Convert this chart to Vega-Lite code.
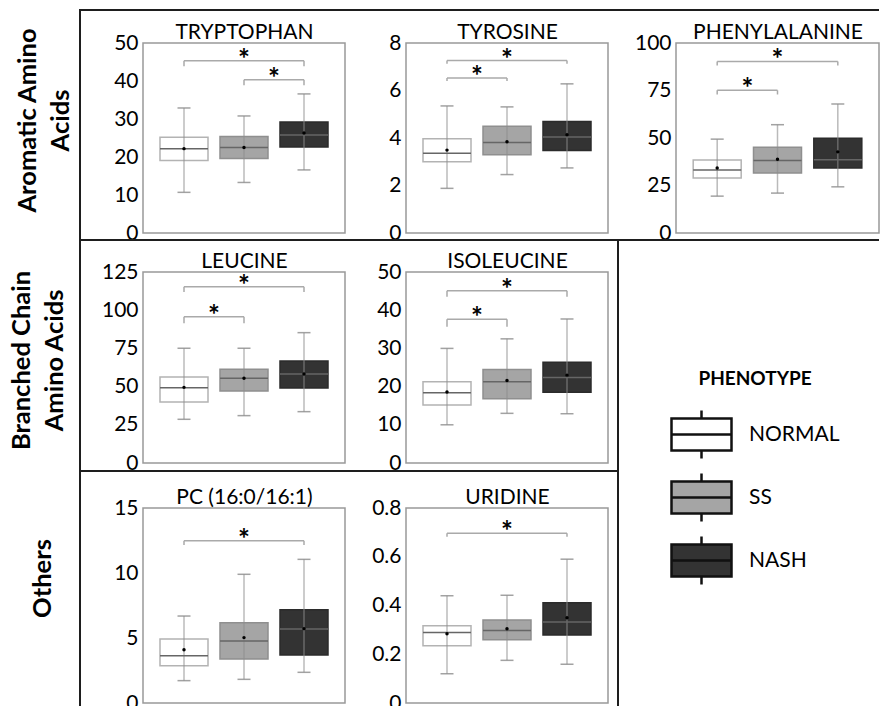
{
  "$schema": "https://vega.github.io/schema/vega-lite/v6.json",
  "background": "white",
  "padding": 0,
  "datasets": {
    "boxes": [
      {"panel": "TRYPTOPHAN", "group": "NORMAL", "idx": 1, "min": 10.7, "q1": 19.1, "median": 22.2, "q3": 25.2, "max": 32.9, "mean": 22.2},
      {"panel": "TRYPTOPHAN", "group": "SS", "idx": 2, "min": 13.3, "q1": 19.6, "median": 22.5, "q3": 25.4, "max": 30.8, "mean": 22.5},
      {"panel": "TRYPTOPHAN", "group": "NASH", "idx": 3, "min": 16.6, "q1": 22.6, "median": 25.8, "q3": 29.2, "max": 36.6, "mean": 26.3},
      {"panel": "TYROSINE", "group": "NORMAL", "idx": 1, "min": 1.88, "q1": 3.0, "median": 3.36, "q3": 3.97, "max": 5.35, "mean": 3.49},
      {"panel": "TYROSINE", "group": "SS", "idx": 2, "min": 2.46, "q1": 3.29, "median": 3.81, "q3": 4.49, "max": 5.31, "mean": 3.84},
      {"panel": "TYROSINE", "group": "NASH", "idx": 3, "min": 2.74, "q1": 3.47, "median": 4.04, "q3": 4.70, "max": 6.28, "mean": 4.14},
      {"panel": "PHENYLALANINE", "group": "NORMAL", "idx": 1, "min": 19.4, "q1": 28.9, "median": 33.2, "q3": 38.4, "max": 49.4, "mean": 34.2},
      {"panel": "PHENYLALANINE", "group": "SS", "idx": 2, "min": 21.0, "q1": 31.6, "median": 38.1, "q3": 45.1, "max": 57.0, "mean": 38.8},
      {"panel": "PHENYLALANINE", "group": "NASH", "idx": 3, "min": 24.3, "q1": 34.2, "median": 38.6, "q3": 49.9, "max": 67.9, "mean": 42.7},
      {"panel": "LEUCINE", "group": "NORMAL", "idx": 1, "min": 28.6, "q1": 39.9, "median": 49.3, "q3": 56.3, "max": 75.1, "mean": 49.5},
      {"panel": "LEUCINE", "group": "SS", "idx": 2, "min": 31.0, "q1": 47.1, "median": 55.4, "q3": 61.3, "max": 75.1, "mean": 55.4},
      {"panel": "LEUCINE", "group": "NASH", "idx": 3, "min": 33.6, "q1": 49.1, "median": 58.2, "q3": 66.8, "max": 85.3, "mean": 58.2},
      {"panel": "ISOLEUCINE", "group": "NORMAL", "idx": 1, "min": 10.0, "q1": 15.2, "median": 18.4, "q3": 21.3, "max": 30.0, "mean": 18.6},
      {"panel": "ISOLEUCINE", "group": "SS", "idx": 2, "min": 13.0, "q1": 16.8, "median": 21.3, "q3": 24.5, "max": 32.5, "mean": 21.6},
      {"panel": "ISOLEUCINE", "group": "NASH", "idx": 3, "min": 12.9, "q1": 18.5, "median": 22.4, "q3": 26.4, "max": 37.7, "mean": 23.0},
      {"panel": "PC", "group": "NORMAL", "idx": 1, "min": 1.72, "q1": 2.87, "median": 3.64, "q3": 4.92, "max": 6.69, "mean": 4.1},
      {"panel": "PC", "group": "SS", "idx": 2, "min": 1.82, "q1": 3.38, "median": 4.77, "q3": 6.18, "max": 9.9, "mean": 5.03},
      {"panel": "PC", "group": "NASH", "idx": 3, "min": 2.36, "q1": 3.69, "median": 5.69, "q3": 7.18, "max": 11.05, "mean": 5.72},
      {"panel": "URIDINE", "group": "NORMAL", "idx": 1, "min": 0.120, "q1": 0.235, "median": 0.289, "q3": 0.317, "max": 0.440, "mean": 0.284},
      {"panel": "URIDINE", "group": "SS", "idx": 2, "min": 0.175, "q1": 0.260, "median": 0.297, "q3": 0.341, "max": 0.442, "mean": 0.305},
      {"panel": "URIDINE", "group": "NASH", "idx": 3, "min": 0.159, "q1": 0.279, "median": 0.332, "q3": 0.411, "max": 0.590, "mean": 0.350}
    ],
    "brackets": [
      {"panel": "TRYPTOPHAN", "from": 1, "to": 3, "mid": 2, "y": 45.3, "lo": 43.9},
      {"panel": "TRYPTOPHAN", "from": 2, "to": 3, "mid": 2.5, "y": 40.3, "lo": 38.9},
      {"panel": "TYROSINE", "from": 1, "to": 3, "mid": 2, "y": 7.26, "lo": 7.13},
      {"panel": "TYROSINE", "from": 1, "to": 2, "mid": 1.5, "y": 6.53, "lo": 6.40},
      {"panel": "PHENYLALANINE", "from": 1, "to": 3, "mid": 2, "y": 90.3, "lo": 88.2},
      {"panel": "PHENYLALANINE", "from": 1, "to": 2, "mid": 1.5, "y": 75.1, "lo": 72.9},
      {"panel": "LEUCINE", "from": 1, "to": 3, "mid": 2, "y": 115.4, "lo": 111.9},
      {"panel": "LEUCINE", "from": 1, "to": 2, "mid": 1.5, "y": 95.7, "lo": 91.4},
      {"panel": "ISOLEUCINE", "from": 1, "to": 3, "mid": 2, "y": 45.1, "lo": 43.5},
      {"panel": "ISOLEUCINE", "from": 1, "to": 2, "mid": 1.5, "y": 37.6, "lo": 35.7},
      {"panel": "PC", "from": 1, "to": 3, "mid": 2, "y": 12.48, "lo": 12.15},
      {"panel": "URIDINE", "from": 1, "to": 3, "mid": 2, "y": 0.696, "lo": 0.682}
    ]
  },
  "columns": 10,
  "spacing": 0,
  "bounds": "flush",
  "align": "each",
  "concat": [
    {"width": 79, "height": 9, "data": {"values": []}, "mark": "point", "view": {"stroke": null, "fill": "white"}},
    {"width": 2, "height": 9, "data": {"values": []}, "mark": "point", "view": {"stroke": null}},
    {"width": 62, "height": 9, "data": {"values": []}, "mark": "point", "view": {"stroke": null}},
    {"width": 202, "height": 9, "data": {"values": []}, "mark": "point", "view": {"stroke": null}},
    {"width": 61, "height": 9, "data": {"values": []}, "mark": "point", "view": {"stroke": null}},
    {"width": 202, "height": 9, "data": {"values": []}, "mark": "point", "view": {"stroke": null}},
    {"width": 9, "height": 9, "data": {"values": []}, "mark": "point", "view": {"stroke": null}},
    {"width": 2, "height": 9, "data": {"values": []}, "mark": "point", "view": {"stroke": null}},
    {"width": 57, "height": 9, "data": {"values": []}, "mark": "point", "view": {"stroke": null}},
    {"width": 203, "height": 9, "data": {"values": []}, "mark": "point", "view": {"stroke": null}},

    {"width": 79, "height": 2, "data": {"values": []}, "mark": "point", "view": {"stroke": null}},
    {"width": 2, "height": 2, "data": {"values": []}, "mark": "point", "view": {"stroke": null, "fill": "#1e1e1e"}},
    {"width": 62, "height": 2, "data": {"values": []}, "mark": "point", "view": {"stroke": null, "fill": "#1e1e1e"}},
    {"width": 202, "height": 2, "data": {"values": []}, "mark": "point", "view": {"stroke": null, "fill": "#1e1e1e"}},
    {"width": 61, "height": 2, "data": {"values": []}, "mark": "point", "view": {"stroke": null, "fill": "#1e1e1e"}},
    {"width": 202, "height": 2, "data": {"values": []}, "mark": "point", "view": {"stroke": null, "fill": "#1e1e1e"}},
    {"width": 9, "height": 2, "data": {"values": []}, "mark": "point", "view": {"stroke": null, "fill": "#1e1e1e"}},
    {"width": 2, "height": 2, "data": {"values": []}, "mark": "point", "view": {"stroke": null, "fill": "#1e1e1e"}},
    {"width": 57, "height": 2, "data": {"values": []}, "mark": "point", "view": {"stroke": null, "fill": "#1e1e1e"}},
    {"width": 203, "height": 2, "data": {"values": []}, "mark": "point", "view": {"stroke": null, "fill": "#1e1e1e"}},

    {"width": 79, "height": 32, "data": {"values": []}, "mark": "point", "view": {"stroke": null}},
    {"width": 2, "height": 32, "data": {"values": []}, "mark": "point", "view": {"stroke": null, "fill": "#1e1e1e"}},
    {"width": 62, "height": 32, "data": {"values": []}, "mark": "point", "view": {"stroke": null}},
    {"width": 202, "height": 32, "data": {"values": []}, "mark": "point", "view": {"stroke": null}},
    {"width": 61, "height": 32, "data": {"values": []}, "mark": "point", "view": {"stroke": null}},
    {"width": 202, "height": 32, "data": {"values": []}, "mark": "point", "view": {"stroke": null}},
    {"width": 9, "height": 32, "data": {"values": []}, "mark": "point", "view": {"stroke": null}},
    {"width": 2, "height": 32, "data": {"values": []}, "mark": "point", "view": {"stroke": null}},
    {"width": 57, "height": 32, "data": {"values": []}, "mark": "point", "view": {"stroke": null}},
    {"width": 203, "height": 32, "data": {"values": []}, "mark": "point", "view": {"stroke": null}},

    {"width": 79, "height": 190, "data": {"values": []}, "mark": "point", "view": {"stroke": null}},
    {"width": 2, "height": 190, "data": {"values": []}, "mark": "point", "view": {"stroke": null, "fill": "#1e1e1e"}},
    {"width": 62, "height": 190, "data": {"values": []}, "mark": "point", "view": {"stroke": null}},
    {"width": 202, "height": 190, "layer": [
      {"data": {"name": "boxes"}, "transform": [{"filter": "datum.panel === 'TRYPTOPHAN'"}], "layer": [
        {"mark": {"type": "bar", "size": 48, "strokeWidth": 1.5},
         "encoding": {
           "x": {"field": "idx", "type": "quantitative", "scale": {"domain": [0.4, 3.6], "nice": false, "zero": false}, "axis": {"orient": "top", "title": "TRYPTOPHAN", "labels": false, "ticks": false, "values": [1, 2, 3]}},
           "y": {"field": "q1", "type": "quantitative", "scale": {"domain": [0, 50], "nice": false}, "axis": {"title": ["Aromatic Amino", "Acids"], "values": [0, 10, 20, 30, 40, 50], "tickCount": 10, "labelOverlap": false, "titleX": -116, "titleY": 77}},
           "y2": {"field": "q3"},
           "fill": {"field": "group", "type": "nominal", "title": "PHENOTYPE", "scale": {"domain": ["NORMAL", "SS", "NASH"], "range": ["#ffffff", "#a5a5a5", "#333333"]},
             "legend": {"orient": "none", "legendX": 670, "legendY": 370, "symbolType": "M-1,-0.53H1V0.53H-1Z M-1,0H1 M0,-0.53V-0.8 M0,0.53V0.8", "symbolSize": 3600, "symbolStrokeColor": "#111111", "symbolStrokeWidth": 2.5, "symbolOpacity": 1, "labelFont": "Lato", "labelFontSize": 21, "labelColor": "#000000", "labelOffset": 16, "titleFont": "Lato", "titleFontWeight": "bold", "titleFontSize": 19, "titleColor": "#000000", "titleAnchor": "middle", "titlePadding": 14, "rowPadding": 2, "padding": 0}},
           "stroke": {"field": "idx", "type": "nominal", "scale": {"domain": [1, 2, 3], "range": ["#b3b3b3", "#8f8f8f", "#2b2b2b"]}, "legend": null}
         }},
        {"mark": {"type": "rule", "color": "#8c8c8c", "opacity": 0.6, "strokeWidth": 1.5}, "encoding": {"x": {"field": "idx", "type": "quantitative"}, "y": {"field": "min", "type": "quantitative"}, "y2": {"field": "max"}}},
        {"mark": {"type": "point", "shape": "M-1,0H1", "size": 169, "filled": false, "color": "#8c8c8c", "opacity": 0.8, "strokeWidth": 1.5}, "encoding": {"x": {"field": "idx", "type": "quantitative"}, "y": {"field": "min", "type": "quantitative"}}},
        {"mark": {"type": "point", "shape": "M-1,0H1", "size": 169, "filled": false, "color": "#8c8c8c", "opacity": 0.8, "strokeWidth": 1.5}, "encoding": {"x": {"field": "idx", "type": "quantitative"}, "y": {"field": "max", "type": "quantitative"}}},
        {"mark": {"type": "point", "shape": "M-1,0H1", "size": 2304, "filled": false, "color": "#666666", "opacity": 1, "strokeWidth": 1.5}, "encoding": {"x": {"field": "idx", "type": "quantitative"}, "y": {"field": "median", "type": "quantitative"}}},
        {"mark": {"type": "point", "filled": true, "color": "#000000", "size": 12, "opacity": 1}, "encoding": {"x": {"field": "idx", "type": "quantitative"}, "y": {"field": "mean", "type": "quantitative"}}}
      ]},
      {"data": {"name": "brackets"}, "transform": [{"filter": "datum.panel === 'TRYPTOPHAN'"}], "layer": [
        {"mark": {"type": "rule", "color": "#aaaaaa", "strokeWidth": 1.5}, "encoding": {"x": {"field": "from", "type": "quantitative"}, "x2": {"field": "to"}, "y": {"field": "y", "type": "quantitative"}}},
        {"mark": {"type": "rule", "color": "#aaaaaa", "strokeWidth": 1.5}, "encoding": {"x": {"field": "from", "type": "quantitative"}, "y": {"field": "lo", "type": "quantitative"}, "y2": {"field": "y"}}},
        {"mark": {"type": "rule", "color": "#aaaaaa", "strokeWidth": 1.5}, "encoding": {"x": {"field": "to", "type": "quantitative"}, "y": {"field": "lo", "type": "quantitative"}, "y2": {"field": "y"}}},
        {"mark": {"type": "text", "text": "*", "font": "Lato", "fontWeight": "bold", "fontSize": 28, "baseline": "alphabetic", "dy": 8, "color": "#000000"}, "encoding": {"x": {"field": "mid", "type": "quantitative"}, "y": {"field": "y", "type": "quantitative"}}}
      ]}
    ]},
    {"width": 61, "height": 190, "data": {"values": []}, "mark": "point", "view": {"stroke": null}},
    {"width": 202, "height": 190, "layer": [
      {"data": {"name": "boxes"}, "transform": [{"filter": "datum.panel === 'TYROSINE'"}], "layer": [
        {"mark": {"type": "bar", "size": 48, "strokeWidth": 1.5},
         "encoding": {
           "x": {"field": "idx", "type": "quantitative", "scale": {"domain": [0.4, 3.6], "nice": false, "zero": false}, "axis": {"orient": "top", "title": "TYROSINE", "labels": false, "ticks": false, "values": [1, 2, 3]}},
           "y": {"field": "q1", "type": "quantitative", "scale": {"domain": [0, 8], "nice": false}, "axis": {"title": null, "values": [0, 2, 4, 6, 8], "tickCount": 10, "labelOverlap": false}},
           "y2": {"field": "q3"},
           "fill": {"field": "group", "type": "nominal", "title": "PHENOTYPE", "scale": {"domain": ["NORMAL", "SS", "NASH"], "range": ["#ffffff", "#a5a5a5", "#333333"]}, "legend": null},
           "stroke": {"field": "idx", "type": "nominal", "scale": {"domain": [1, 2, 3], "range": ["#b3b3b3", "#8f8f8f", "#2b2b2b"]}, "legend": null}
         }},
        {"mark": {"type": "rule", "color": "#8c8c8c", "opacity": 0.6, "strokeWidth": 1.5}, "encoding": {"x": {"field": "idx", "type": "quantitative"}, "y": {"field": "min", "type": "quantitative"}, "y2": {"field": "max"}}},
        {"mark": {"type": "point", "shape": "M-1,0H1", "size": 169, "filled": false, "color": "#8c8c8c", "opacity": 0.8, "strokeWidth": 1.5}, "encoding": {"x": {"field": "idx", "type": "quantitative"}, "y": {"field": "min", "type": "quantitative"}}},
        {"mark": {"type": "point", "shape": "M-1,0H1", "size": 169, "filled": false, "color": "#8c8c8c", "opacity": 0.8, "strokeWidth": 1.5}, "encoding": {"x": {"field": "idx", "type": "quantitative"}, "y": {"field": "max", "type": "quantitative"}}},
        {"mark": {"type": "point", "shape": "M-1,0H1", "size": 2304, "filled": false, "color": "#666666", "opacity": 1, "strokeWidth": 1.5}, "encoding": {"x": {"field": "idx", "type": "quantitative"}, "y": {"field": "median", "type": "quantitative"}}},
        {"mark": {"type": "point", "filled": true, "color": "#000000", "size": 12, "opacity": 1}, "encoding": {"x": {"field": "idx", "type": "quantitative"}, "y": {"field": "mean", "type": "quantitative"}}}
      ]},
      {"data": {"name": "brackets"}, "transform": [{"filter": "datum.panel === 'TYROSINE'"}], "layer": [
        {"mark": {"type": "rule", "color": "#aaaaaa", "strokeWidth": 1.5}, "encoding": {"x": {"field": "from", "type": "quantitative"}, "x2": {"field": "to"}, "y": {"field": "y", "type": "quantitative"}}},
        {"mark": {"type": "rule", "color": "#aaaaaa", "strokeWidth": 1.5}, "encoding": {"x": {"field": "from", "type": "quantitative"}, "y": {"field": "lo", "type": "quantitative"}, "y2": {"field": "y"}}},
        {"mark": {"type": "rule", "color": "#aaaaaa", "strokeWidth": 1.5}, "encoding": {"x": {"field": "to", "type": "quantitative"}, "y": {"field": "lo", "type": "quantitative"}, "y2": {"field": "y"}}},
        {"mark": {"type": "text", "text": "*", "font": "Lato", "fontWeight": "bold", "fontSize": 28, "baseline": "alphabetic", "dy": 8, "color": "#000000"}, "encoding": {"x": {"field": "mid", "type": "quantitative"}, "y": {"field": "y", "type": "quantitative"}}}
      ]}
    ]},
    {"width": 9, "height": 190, "data": {"values": []}, "mark": "point", "view": {"stroke": null}},
    {"width": 2, "height": 190, "data": {"values": []}, "mark": "point", "view": {"stroke": null}},
    {"width": 57, "height": 190, "data": {"values": []}, "mark": "point", "view": {"stroke": null}},
    {"width": 203, "height": 190, "layer": [
      {"data": {"name": "boxes"}, "transform": [{"filter": "datum.panel === 'PHENYLALANINE'"}], "layer": [
        {"mark": {"type": "bar", "size": 48, "strokeWidth": 1.5},
         "encoding": {
           "x": {"field": "idx", "type": "quantitative", "scale": {"domain": [0.4, 3.6], "nice": false, "zero": false}, "axis": {"orient": "top", "title": "PHENYLALANINE", "labels": false, "ticks": false, "values": [1, 2, 3]}},
           "y": {"field": "q1", "type": "quantitative", "scale": {"domain": [0, 100], "nice": false}, "axis": {"title": null, "values": [0, 25, 50, 75, 100], "tickCount": 10, "labelOverlap": false}},
           "y2": {"field": "q3"},
           "fill": {"field": "group", "type": "nominal", "title": "PHENOTYPE", "scale": {"domain": ["NORMAL", "SS", "NASH"], "range": ["#ffffff", "#a5a5a5", "#333333"]}, "legend": null},
           "stroke": {"field": "idx", "type": "nominal", "scale": {"domain": [1, 2, 3], "range": ["#b3b3b3", "#8f8f8f", "#2b2b2b"]}, "legend": null}
         }},
        {"mark": {"type": "rule", "color": "#8c8c8c", "opacity": 0.6, "strokeWidth": 1.5}, "encoding": {"x": {"field": "idx", "type": "quantitative"}, "y": {"field": "min", "type": "quantitative"}, "y2": {"field": "max"}}},
        {"mark": {"type": "point", "shape": "M-1,0H1", "size": 169, "filled": false, "color": "#8c8c8c", "opacity": 0.8, "strokeWidth": 1.5}, "encoding": {"x": {"field": "idx", "type": "quantitative"}, "y": {"field": "min", "type": "quantitative"}}},
        {"mark": {"type": "point", "shape": "M-1,0H1", "size": 169, "filled": false, "color": "#8c8c8c", "opacity": 0.8, "strokeWidth": 1.5}, "encoding": {"x": {"field": "idx", "type": "quantitative"}, "y": {"field": "max", "type": "quantitative"}}},
        {"mark": {"type": "point", "shape": "M-1,0H1", "size": 2304, "filled": false, "color": "#666666", "opacity": 1, "strokeWidth": 1.5}, "encoding": {"x": {"field": "idx", "type": "quantitative"}, "y": {"field": "median", "type": "quantitative"}}},
        {"mark": {"type": "point", "filled": true, "color": "#000000", "size": 12, "opacity": 1}, "encoding": {"x": {"field": "idx", "type": "quantitative"}, "y": {"field": "mean", "type": "quantitative"}}}
      ]},
      {"data": {"name": "brackets"}, "transform": [{"filter": "datum.panel === 'PHENYLALANINE'"}], "layer": [
        {"mark": {"type": "rule", "color": "#aaaaaa", "strokeWidth": 1.5}, "encoding": {"x": {"field": "from", "type": "quantitative"}, "x2": {"field": "to"}, "y": {"field": "y", "type": "quantitative"}}},
        {"mark": {"type": "rule", "color": "#aaaaaa", "strokeWidth": 1.5}, "encoding": {"x": {"field": "from", "type": "quantitative"}, "y": {"field": "lo", "type": "quantitative"}, "y2": {"field": "y"}}},
        {"mark": {"type": "rule", "color": "#aaaaaa", "strokeWidth": 1.5}, "encoding": {"x": {"field": "to", "type": "quantitative"}, "y": {"field": "lo", "type": "quantitative"}, "y2": {"field": "y"}}},
        {"mark": {"type": "text", "text": "*", "font": "Lato", "fontWeight": "bold", "fontSize": 28, "baseline": "alphabetic", "dy": 8, "color": "#000000"}, "encoding": {"x": {"field": "mid", "type": "quantitative"}, "y": {"field": "y", "type": "quantitative"}}}
      ]}
    ]},

    {"width": 79, "height": 6, "data": {"values": []}, "mark": "point", "view": {"stroke": null}},
    {"width": 2, "height": 6, "data": {"values": []}, "mark": "point", "view": {"stroke": null, "fill": "#1e1e1e"}},
    {"width": 62, "height": 6, "data": {"values": []}, "mark": "point", "view": {"stroke": null}},
    {"width": 202, "height": 6, "data": {"values": []}, "mark": "point", "view": {"stroke": null}},
    {"width": 61, "height": 6, "data": {"values": []}, "mark": "point", "view": {"stroke": null}},
    {"width": 202, "height": 6, "data": {"values": []}, "mark": "point", "view": {"stroke": null}},
    {"width": 9, "height": 6, "data": {"values": []}, "mark": "point", "view": {"stroke": null}},
    {"width": 2, "height": 6, "data": {"values": []}, "mark": "point", "view": {"stroke": null}},
    {"width": 57, "height": 6, "data": {"values": []}, "mark": "point", "view": {"stroke": null}},
    {"width": 203, "height": 6, "data": {"values": []}, "mark": "point", "view": {"stroke": null}},

    {"width": 79, "height": 2, "data": {"values": []}, "mark": "point", "view": {"stroke": null}},
    {"width": 2, "height": 2, "data": {"values": []}, "mark": "point", "view": {"stroke": null, "fill": "#1e1e1e"}},
    {"width": 62, "height": 2, "data": {"values": []}, "mark": "point", "view": {"stroke": null, "fill": "#1e1e1e"}},
    {"width": 202, "height": 2, "data": {"values": []}, "mark": "point", "view": {"stroke": null, "fill": "#1e1e1e"}},
    {"width": 61, "height": 2, "data": {"values": []}, "mark": "point", "view": {"stroke": null, "fill": "#1e1e1e"}},
    {"width": 202, "height": 2, "data": {"values": []}, "mark": "point", "view": {"stroke": null, "fill": "#1e1e1e"}},
    {"width": 9, "height": 2, "data": {"values": []}, "mark": "point", "view": {"stroke": null, "fill": "#1e1e1e"}},
    {"width": 2, "height": 2, "data": {"values": []}, "mark": "point", "view": {"stroke": null, "fill": "#1e1e1e"}},
    {"width": 57, "height": 2, "data": {"values": []}, "mark": "point", "view": {"stroke": null, "fill": "#1e1e1e"}},
    {"width": 203, "height": 2, "data": {"values": []}, "mark": "point", "view": {"stroke": null, "fill": "#1e1e1e"}},

    {"width": 79, "height": 31, "data": {"values": []}, "mark": "point", "view": {"stroke": null}},
    {"width": 2, "height": 31, "data": {"values": []}, "mark": "point", "view": {"stroke": null, "fill": "#1e1e1e"}},
    {"width": 62, "height": 31, "data": {"values": []}, "mark": "point", "view": {"stroke": null}},
    {"width": 202, "height": 31, "data": {"values": []}, "mark": "point", "view": {"stroke": null}},
    {"width": 61, "height": 31, "data": {"values": []}, "mark": "point", "view": {"stroke": null}},
    {"width": 202, "height": 31, "data": {"values": []}, "mark": "point", "view": {"stroke": null}},
    {"width": 9, "height": 31, "data": {"values": []}, "mark": "point", "view": {"stroke": null}},
    {"width": 2, "height": 31, "data": {"values": []}, "mark": "point", "view": {"stroke": null, "fill": "#1e1e1e"}},
    {"width": 57, "height": 31, "data": {"values": []}, "mark": "point", "view": {"stroke": null}},
    {"width": 203, "height": 31, "data": {"values": []}, "mark": "point", "view": {"stroke": null}},

    {"width": 79, "height": 191, "data": {"values": []}, "mark": "point", "view": {"stroke": null}},
    {"width": 2, "height": 191, "data": {"values": []}, "mark": "point", "view": {"stroke": null, "fill": "#1e1e1e"}},
    {"width": 62, "height": 191, "data": {"values": []}, "mark": "point", "view": {"stroke": null}},
    {"width": 202, "height": 191, "layer": [
      {"data": {"name": "boxes"}, "transform": [{"filter": "datum.panel === 'LEUCINE'"}], "layer": [
        {"mark": {"type": "bar", "size": 48, "strokeWidth": 1.5},
         "encoding": {
           "x": {"field": "idx", "type": "quantitative", "scale": {"domain": [0.4, 3.6], "nice": false, "zero": false}, "axis": {"orient": "top", "title": "LEUCINE", "labels": false, "ticks": false, "values": [1, 2, 3]}},
           "y": {"field": "q1", "type": "quantitative", "scale": {"domain": [0, 125], "nice": false}, "axis": {"title": ["Branched Chain", "Amino Acids"], "values": [0, 25, 50, 75, 100, 125], "tickCount": 10, "labelOverlap": false, "titleX": -122, "titleY": 88}},
           "y2": {"field": "q3"},
           "fill": {"field": "group", "type": "nominal", "title": "PHENOTYPE", "scale": {"domain": ["NORMAL", "SS", "NASH"], "range": ["#ffffff", "#a5a5a5", "#333333"]}, "legend": null},
           "stroke": {"field": "idx", "type": "nominal", "scale": {"domain": [1, 2, 3], "range": ["#b3b3b3", "#8f8f8f", "#2b2b2b"]}, "legend": null}
         }},
        {"mark": {"type": "rule", "color": "#8c8c8c", "opacity": 0.6, "strokeWidth": 1.5}, "encoding": {"x": {"field": "idx", "type": "quantitative"}, "y": {"field": "min", "type": "quantitative"}, "y2": {"field": "max"}}},
        {"mark": {"type": "point", "shape": "M-1,0H1", "size": 169, "filled": false, "color": "#8c8c8c", "opacity": 0.8, "strokeWidth": 1.5}, "encoding": {"x": {"field": "idx", "type": "quantitative"}, "y": {"field": "min", "type": "quantitative"}}},
        {"mark": {"type": "point", "shape": "M-1,0H1", "size": 169, "filled": false, "color": "#8c8c8c", "opacity": 0.8, "strokeWidth": 1.5}, "encoding": {"x": {"field": "idx", "type": "quantitative"}, "y": {"field": "max", "type": "quantitative"}}},
        {"mark": {"type": "point", "shape": "M-1,0H1", "size": 2304, "filled": false, "color": "#666666", "opacity": 1, "strokeWidth": 1.5}, "encoding": {"x": {"field": "idx", "type": "quantitative"}, "y": {"field": "median", "type": "quantitative"}}},
        {"mark": {"type": "point", "filled": true, "color": "#000000", "size": 12, "opacity": 1}, "encoding": {"x": {"field": "idx", "type": "quantitative"}, "y": {"field": "mean", "type": "quantitative"}}}
      ]},
      {"data": {"name": "brackets"}, "transform": [{"filter": "datum.panel === 'LEUCINE'"}], "layer": [
        {"mark": {"type": "rule", "color": "#aaaaaa", "strokeWidth": 1.5}, "encoding": {"x": {"field": "from", "type": "quantitative"}, "x2": {"field": "to"}, "y": {"field": "y", "type": "quantitative"}}},
        {"mark": {"type": "rule", "color": "#aaaaaa", "strokeWidth": 1.5}, "encoding": {"x": {"field": "from", "type": "quantitative"}, "y": {"field": "lo", "type": "quantitative"}, "y2": {"field": "y"}}},
        {"mark": {"type": "rule", "color": "#aaaaaa", "strokeWidth": 1.5}, "encoding": {"x": {"field": "to", "type": "quantitative"}, "y": {"field": "lo", "type": "quantitative"}, "y2": {"field": "y"}}},
        {"mark": {"type": "text", "text": "*", "font": "Lato", "fontWeight": "bold", "fontSize": 28, "baseline": "alphabetic", "dy": 8, "color": "#000000"}, "encoding": {"x": {"field": "mid", "type": "quantitative"}, "y": {"field": "y", "type": "quantitative"}}}
      ]}
    ]},
    {"width": 61, "height": 191, "data": {"values": []}, "mark": "point", "view": {"stroke": null}},
    {"width": 202, "height": 191, "layer": [
      {"data": {"name": "boxes"}, "transform": [{"filter": "datum.panel === 'ISOLEUCINE'"}], "layer": [
        {"mark": {"type": "bar", "size": 48, "strokeWidth": 1.5},
         "encoding": {
           "x": {"field": "idx", "type": "quantitative", "scale": {"domain": [0.4, 3.6], "nice": false, "zero": false}, "axis": {"orient": "top", "title": "ISOLEUCINE", "labels": false, "ticks": false, "values": [1, 2, 3]}},
           "y": {"field": "q1", "type": "quantitative", "scale": {"domain": [0, 50], "nice": false}, "axis": {"title": null, "values": [0, 10, 20, 30, 40, 50], "tickCount": 10, "labelOverlap": false}},
           "y2": {"field": "q3"},
           "fill": {"field": "group", "type": "nominal", "title": "PHENOTYPE", "scale": {"domain": ["NORMAL", "SS", "NASH"], "range": ["#ffffff", "#a5a5a5", "#333333"]}, "legend": null},
           "stroke": {"field": "idx", "type": "nominal", "scale": {"domain": [1, 2, 3], "range": ["#b3b3b3", "#8f8f8f", "#2b2b2b"]}, "legend": null}
         }},
        {"mark": {"type": "rule", "color": "#8c8c8c", "opacity": 0.6, "strokeWidth": 1.5}, "encoding": {"x": {"field": "idx", "type": "quantitative"}, "y": {"field": "min", "type": "quantitative"}, "y2": {"field": "max"}}},
        {"mark": {"type": "point", "shape": "M-1,0H1", "size": 169, "filled": false, "color": "#8c8c8c", "opacity": 0.8, "strokeWidth": 1.5}, "encoding": {"x": {"field": "idx", "type": "quantitative"}, "y": {"field": "min", "type": "quantitative"}}},
        {"mark": {"type": "point", "shape": "M-1,0H1", "size": 169, "filled": false, "color": "#8c8c8c", "opacity": 0.8, "strokeWidth": 1.5}, "encoding": {"x": {"field": "idx", "type": "quantitative"}, "y": {"field": "max", "type": "quantitative"}}},
        {"mark": {"type": "point", "shape": "M-1,0H1", "size": 2304, "filled": false, "color": "#666666", "opacity": 1, "strokeWidth": 1.5}, "encoding": {"x": {"field": "idx", "type": "quantitative"}, "y": {"field": "median", "type": "quantitative"}}},
        {"mark": {"type": "point", "filled": true, "color": "#000000", "size": 12, "opacity": 1}, "encoding": {"x": {"field": "idx", "type": "quantitative"}, "y": {"field": "mean", "type": "quantitative"}}}
      ]},
      {"data": {"name": "brackets"}, "transform": [{"filter": "datum.panel === 'ISOLEUCINE'"}], "layer": [
        {"mark": {"type": "rule", "color": "#aaaaaa", "strokeWidth": 1.5}, "encoding": {"x": {"field": "from", "type": "quantitative"}, "x2": {"field": "to"}, "y": {"field": "y", "type": "quantitative"}}},
        {"mark": {"type": "rule", "color": "#aaaaaa", "strokeWidth": 1.5}, "encoding": {"x": {"field": "from", "type": "quantitative"}, "y": {"field": "lo", "type": "quantitative"}, "y2": {"field": "y"}}},
        {"mark": {"type": "rule", "color": "#aaaaaa", "strokeWidth": 1.5}, "encoding": {"x": {"field": "to", "type": "quantitative"}, "y": {"field": "lo", "type": "quantitative"}, "y2": {"field": "y"}}},
        {"mark": {"type": "text", "text": "*", "font": "Lato", "fontWeight": "bold", "fontSize": 28, "baseline": "alphabetic", "dy": 8, "color": "#000000"}, "encoding": {"x": {"field": "mid", "type": "quantitative"}, "y": {"field": "y", "type": "quantitative"}}}
      ]}
    ]},
    {"width": 9, "height": 191, "data": {"values": []}, "mark": "point", "view": {"stroke": null}},
    {"width": 2, "height": 191, "data": {"values": []}, "mark": "point", "view": {"stroke": null, "fill": "#1e1e1e"}},
    {"width": 57, "height": 191, "data": {"values": []}, "mark": "point", "view": {"stroke": null}},
    {"width": 203, "height": 191, "data": {"values": []}, "mark": "point", "view": {"stroke": null}},

    {"width": 79, "height": 7, "data": {"values": []}, "mark": "point", "view": {"stroke": null}},
    {"width": 2, "height": 7, "data": {"values": []}, "mark": "point", "view": {"stroke": null, "fill": "#1e1e1e"}},
    {"width": 62, "height": 7, "data": {"values": []}, "mark": "point", "view": {"stroke": null}},
    {"width": 202, "height": 7, "data": {"values": []}, "mark": "point", "view": {"stroke": null}},
    {"width": 61, "height": 7, "data": {"values": []}, "mark": "point", "view": {"stroke": null}},
    {"width": 202, "height": 7, "data": {"values": []}, "mark": "point", "view": {"stroke": null}},
    {"width": 9, "height": 7, "data": {"values": []}, "mark": "point", "view": {"stroke": null}},
    {"width": 2, "height": 7, "data": {"values": []}, "mark": "point", "view": {"stroke": null, "fill": "#1e1e1e"}},
    {"width": 57, "height": 7, "data": {"values": []}, "mark": "point", "view": {"stroke": null}},
    {"width": 203, "height": 7, "data": {"values": []}, "mark": "point", "view": {"stroke": null}},

    {"width": 79, "height": 2, "data": {"values": []}, "mark": "point", "view": {"stroke": null}},
    {"width": 2, "height": 2, "data": {"values": []}, "mark": "point", "view": {"stroke": null, "fill": "#1e1e1e"}},
    {"width": 62, "height": 2, "data": {"values": []}, "mark": "point", "view": {"stroke": null, "fill": "#1e1e1e"}},
    {"width": 202, "height": 2, "data": {"values": []}, "mark": "point", "view": {"stroke": null, "fill": "#1e1e1e"}},
    {"width": 61, "height": 2, "data": {"values": []}, "mark": "point", "view": {"stroke": null, "fill": "#1e1e1e"}},
    {"width": 202, "height": 2, "data": {"values": []}, "mark": "point", "view": {"stroke": null, "fill": "#1e1e1e"}},
    {"width": 9, "height": 2, "data": {"values": []}, "mark": "point", "view": {"stroke": null, "fill": "#1e1e1e"}},
    {"width": 2, "height": 2, "data": {"values": []}, "mark": "point", "view": {"stroke": null, "fill": "#1e1e1e"}},
    {"width": 57, "height": 2, "data": {"values": []}, "mark": "point", "view": {"stroke": null}},
    {"width": 203, "height": 2, "data": {"values": []}, "mark": "point", "view": {"stroke": null}},

    {"width": 79, "height": 36, "data": {"values": []}, "mark": "point", "view": {"stroke": null}},
    {"width": 2, "height": 36, "data": {"values": []}, "mark": "point", "view": {"stroke": null, "fill": "#1e1e1e"}},
    {"width": 62, "height": 36, "data": {"values": []}, "mark": "point", "view": {"stroke": null}},
    {"width": 202, "height": 36, "data": {"values": []}, "mark": "point", "view": {"stroke": null}},
    {"width": 61, "height": 36, "data": {"values": []}, "mark": "point", "view": {"stroke": null}},
    {"width": 202, "height": 36, "data": {"values": []}, "mark": "point", "view": {"stroke": null}},
    {"width": 9, "height": 36, "data": {"values": []}, "mark": "point", "view": {"stroke": null}},
    {"width": 2, "height": 36, "data": {"values": []}, "mark": "point", "view": {"stroke": null, "fill": "#1e1e1e"}},
    {"width": 57, "height": 36, "data": {"values": []}, "mark": "point", "view": {"stroke": null}},
    {"width": 203, "height": 36, "data": {"values": []}, "mark": "point", "view": {"stroke": null}},

    {"width": 79, "height": 195, "data": {"values": []}, "mark": "point", "view": {"stroke": null}},
    {"width": 2, "height": 195, "data": {"values": []}, "mark": "point", "view": {"stroke": null, "fill": "#1e1e1e"}},
    {"width": 62, "height": 195, "data": {"values": []}, "mark": "point", "view": {"stroke": null}},
    {"width": 202, "height": 195, "layer": [
      {"data": {"name": "boxes"}, "transform": [{"filter": "datum.panel === 'PC'"}], "layer": [
        {"mark": {"type": "bar", "size": 48, "strokeWidth": 1.5},
         "encoding": {
           "x": {"field": "idx", "type": "quantitative", "scale": {"domain": [0.4, 3.6], "nice": false, "zero": false}, "axis": {"orient": "top", "title": "PC (16:0/16:1)", "labels": false, "ticks": false, "values": [1, 2, 3]}},
           "y": {"field": "q1", "type": "quantitative", "scale": {"domain": [0, 15], "nice": false}, "axis": {"title": "Others", "values": [0, 5, 10, 15], "tickCount": 10, "labelOverlap": false, "titleX": -101, "titleY": 70}},
           "y2": {"field": "q3"},
           "fill": {"field": "group", "type": "nominal", "title": "PHENOTYPE", "scale": {"domain": ["NORMAL", "SS", "NASH"], "range": ["#ffffff", "#a5a5a5", "#333333"]}, "legend": null},
           "stroke": {"field": "idx", "type": "nominal", "scale": {"domain": [1, 2, 3], "range": ["#b3b3b3", "#8f8f8f", "#2b2b2b"]}, "legend": null}
         }},
        {"mark": {"type": "rule", "color": "#8c8c8c", "opacity": 0.6, "strokeWidth": 1.5}, "encoding": {"x": {"field": "idx", "type": "quantitative"}, "y": {"field": "min", "type": "quantitative"}, "y2": {"field": "max"}}},
        {"mark": {"type": "point", "shape": "M-1,0H1", "size": 169, "filled": false, "color": "#8c8c8c", "opacity": 0.8, "strokeWidth": 1.5}, "encoding": {"x": {"field": "idx", "type": "quantitative"}, "y": {"field": "min", "type": "quantitative"}}},
        {"mark": {"type": "point", "shape": "M-1,0H1", "size": 169, "filled": false, "color": "#8c8c8c", "opacity": 0.8, "strokeWidth": 1.5}, "encoding": {"x": {"field": "idx", "type": "quantitative"}, "y": {"field": "max", "type": "quantitative"}}},
        {"mark": {"type": "point", "shape": "M-1,0H1", "size": 2304, "filled": false, "color": "#666666", "opacity": 1, "strokeWidth": 1.5}, "encoding": {"x": {"field": "idx", "type": "quantitative"}, "y": {"field": "median", "type": "quantitative"}}},
        {"mark": {"type": "point", "filled": true, "color": "#000000", "size": 12, "opacity": 1}, "encoding": {"x": {"field": "idx", "type": "quantitative"}, "y": {"field": "mean", "type": "quantitative"}}}
      ]},
      {"data": {"name": "brackets"}, "transform": [{"filter": "datum.panel === 'PC'"}], "layer": [
        {"mark": {"type": "rule", "color": "#aaaaaa", "strokeWidth": 1.5}, "encoding": {"x": {"field": "from", "type": "quantitative"}, "x2": {"field": "to"}, "y": {"field": "y", "type": "quantitative"}}},
        {"mark": {"type": "rule", "color": "#aaaaaa", "strokeWidth": 1.5}, "encoding": {"x": {"field": "from", "type": "quantitative"}, "y": {"field": "lo", "type": "quantitative"}, "y2": {"field": "y"}}},
        {"mark": {"type": "rule", "color": "#aaaaaa", "strokeWidth": 1.5}, "encoding": {"x": {"field": "to", "type": "quantitative"}, "y": {"field": "lo", "type": "quantitative"}, "y2": {"field": "y"}}},
        {"mark": {"type": "text", "text": "*", "font": "Lato", "fontWeight": "bold", "fontSize": 28, "baseline": "alphabetic", "dy": 8, "color": "#000000"}, "encoding": {"x": {"field": "mid", "type": "quantitative"}, "y": {"field": "y", "type": "quantitative"}}}
      ]}
    ]},
    {"width": 61, "height": 195, "data": {"values": []}, "mark": "point", "view": {"stroke": null}},
    {"width": 202, "height": 195, "layer": [
      {"data": {"name": "boxes"}, "transform": [{"filter": "datum.panel === 'URIDINE'"}], "layer": [
        {"mark": {"type": "bar", "size": 48, "strokeWidth": 1.5},
         "encoding": {
           "x": {"field": "idx", "type": "quantitative", "scale": {"domain": [0.4, 3.6], "nice": false, "zero": false}, "axis": {"orient": "top", "title": "URIDINE", "labels": false, "ticks": false, "values": [1, 2, 3]}},
           "y": {"field": "q1", "type": "quantitative", "scale": {"domain": [0, 0.8], "nice": false}, "axis": {"title": null, "values": [0, 0.2, 0.4, 0.6, 0.8], "format": "~g", "tickCount": 10, "labelOverlap": false}},
           "y2": {"field": "q3"},
           "fill": {"field": "group", "type": "nominal", "title": "PHENOTYPE", "scale": {"domain": ["NORMAL", "SS", "NASH"], "range": ["#ffffff", "#a5a5a5", "#333333"]}, "legend": null},
           "stroke": {"field": "idx", "type": "nominal", "scale": {"domain": [1, 2, 3], "range": ["#b3b3b3", "#8f8f8f", "#2b2b2b"]}, "legend": null}
         }},
        {"mark": {"type": "rule", "color": "#8c8c8c", "opacity": 0.6, "strokeWidth": 1.5}, "encoding": {"x": {"field": "idx", "type": "quantitative"}, "y": {"field": "min", "type": "quantitative"}, "y2": {"field": "max"}}},
        {"mark": {"type": "point", "shape": "M-1,0H1", "size": 169, "filled": false, "color": "#8c8c8c", "opacity": 0.8, "strokeWidth": 1.5}, "encoding": {"x": {"field": "idx", "type": "quantitative"}, "y": {"field": "min", "type": "quantitative"}}},
        {"mark": {"type": "point", "shape": "M-1,0H1", "size": 169, "filled": false, "color": "#8c8c8c", "opacity": 0.8, "strokeWidth": 1.5}, "encoding": {"x": {"field": "idx", "type": "quantitative"}, "y": {"field": "max", "type": "quantitative"}}},
        {"mark": {"type": "point", "shape": "M-1,0H1", "size": 2304, "filled": false, "color": "#666666", "opacity": 1, "strokeWidth": 1.5}, "encoding": {"x": {"field": "idx", "type": "quantitative"}, "y": {"field": "median", "type": "quantitative"}}},
        {"mark": {"type": "point", "filled": true, "color": "#000000", "size": 12, "opacity": 1}, "encoding": {"x": {"field": "idx", "type": "quantitative"}, "y": {"field": "mean", "type": "quantitative"}}}
      ]},
      {"data": {"name": "brackets"}, "transform": [{"filter": "datum.panel === 'URIDINE'"}], "layer": [
        {"mark": {"type": "rule", "color": "#aaaaaa", "strokeWidth": 1.5}, "encoding": {"x": {"field": "from", "type": "quantitative"}, "x2": {"field": "to"}, "y": {"field": "y", "type": "quantitative"}}},
        {"mark": {"type": "rule", "color": "#aaaaaa", "strokeWidth": 1.5}, "encoding": {"x": {"field": "from", "type": "quantitative"}, "y": {"field": "lo", "type": "quantitative"}, "y2": {"field": "y"}}},
        {"mark": {"type": "rule", "color": "#aaaaaa", "strokeWidth": 1.5}, "encoding": {"x": {"field": "to", "type": "quantitative"}, "y": {"field": "lo", "type": "quantitative"}, "y2": {"field": "y"}}},
        {"mark": {"type": "text", "text": "*", "font": "Lato", "fontWeight": "bold", "fontSize": 28, "baseline": "alphabetic", "dy": 8, "color": "#000000"}, "encoding": {"x": {"field": "mid", "type": "quantitative"}, "y": {"field": "y", "type": "quantitative"}}}
      ]}
    ]},
    {"width": 9, "height": 195, "data": {"values": []}, "mark": "point", "view": {"stroke": null}},
    {"width": 2, "height": 195, "data": {"values": []}, "mark": "point", "view": {"stroke": null, "fill": "#1e1e1e"}},
    {"width": 57, "height": 195, "data": {"values": []}, "mark": "point", "view": {"stroke": null}},
    {"width": 203, "height": 195, "data": {"values": []}, "mark": "point", "view": {"stroke": null}},

    {"width": 79, "height": 5, "data": {"values": []}, "mark": "point", "view": {"stroke": null}},
    {"width": 2, "height": 5, "data": {"values": []}, "mark": "point", "view": {"stroke": null, "fill": "#1e1e1e"}},
    {"width": 62, "height": 5, "data": {"values": []}, "mark": "point", "view": {"stroke": null}},
    {"width": 202, "height": 5, "data": {"values": []}, "mark": "point", "view": {"stroke": null}},
    {"width": 61, "height": 5, "data": {"values": []}, "mark": "point", "view": {"stroke": null}},
    {"width": 202, "height": 5, "data": {"values": []}, "mark": "point", "view": {"stroke": null}},
    {"width": 9, "height": 5, "data": {"values": []}, "mark": "point", "view": {"stroke": null}},
    {"width": 2, "height": 5, "data": {"values": []}, "mark": "point", "view": {"stroke": null, "fill": "#1e1e1e"}},
    {"width": 57, "height": 5, "data": {"values": []}, "mark": "point", "view": {"stroke": null}},
    {"width": 203, "height": 5, "data": {"values": []}, "mark": "point", "view": {"stroke": null}}
  ],
  "config": {
    "view": {"stroke": "#999999", "strokeWidth": 1.5},
    "axis": {"grid": false, "domain": false, "ticks": false, "labelFont": "Lato", "labelFontSize": 21, "labelColor": "#000000", "labelPadding": 5, "labelOverlap": false},
    "axisX": {"titleFont": "Lato", "titleFontSize": 21, "titleFontWeight": "normal", "titleColor": "#000000", "titleBaseline": "alphabetic", "titleY": -5},
    "axisY": {"titleFont": "Lato", "titleFontSize": 25.5, "titleFontWeight": "bold", "titleColor": "#000000", "titleLineHeight": 33, "titleBaseline": "middle", "titleAlign": "center", "titleAngle": -90}
  }
}
